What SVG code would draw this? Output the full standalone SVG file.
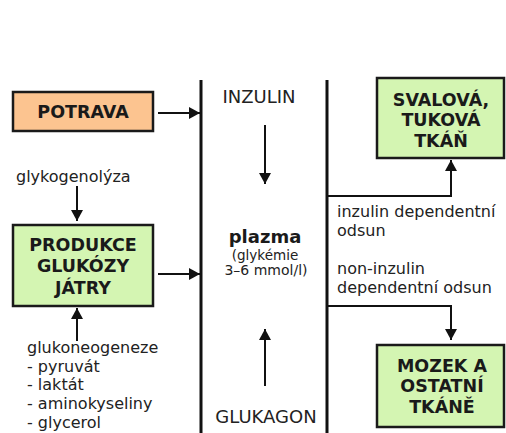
<svg xmlns="http://www.w3.org/2000/svg" width="506" height="433" viewBox="0 0 506 433">
<style>
.box{stroke:#1a1a1a;stroke-width:2.5}
.peach{fill:#fcc490}
.green{fill:#d4f5b2}
.bt{font-family:"DejaVu Sans",Verdana,sans-serif;font-weight:bold;font-size:17.5px;fill:#1a1a1a;text-anchor:middle}
.t{font-family:"DejaVu Sans",Verdana,sans-serif;font-size:16px;fill:#222}
.big{font-family:"DejaVu Sans",Verdana,sans-serif;font-size:18px;fill:#222;text-anchor:middle}
.ln{stroke:#111;stroke-width:2;fill:none}
.bar{stroke:#111;stroke-width:3;fill:none}
</style>
<defs>
<marker id="ah" markerUnits="userSpaceOnUse" markerWidth="11" markerHeight="12" refX="11" refY="6" orient="auto">
<path d="M0,0 L11,6 L0,12 z" fill="#111"/>
</marker>
</defs>
<rect width="506" height="433" fill="#fff"/>

<g id="plasma">
<line class="bar" x1="201" y1="80" x2="201" y2="433"/>
<line class="bar" x1="327" y1="80" x2="327" y2="433"/>
<text class="big" x="259" y="103">INZULIN</text>
<text class="big" x="266" y="423">GLUKAGON</text>
<text class="bt" x="265" y="243" style="font-size:18px">plazma</text>
<text class="t" x="265" y="260" text-anchor="middle" style="font-size:13.5px">(glykémie</text>
<text class="t" x="266" y="275" text-anchor="middle" style="font-size:14px">3–6 mmol/l)</text>
</g>

<g id="potrava">
<rect class="box peach" x="13" y="92" width="140" height="39"/>
<text class="bt" x="83" y="118">POTRAVA</text>
</g>

<g id="produkce">
<rect class="box green" x="13" y="225" width="140" height="81"/>
<text class="bt" x="83" y="251">PRODUKCE</text>
<text class="bt" x="83" y="272">GLUKÓZY</text>
<text class="bt" x="83" y="294">JÁTRY</text>
</g>

<g id="svalova">
<rect class="box green" x="377" y="78" width="127" height="80"/>
<text class="bt" x="441" y="106">SVALOVÁ,</text>
<text class="bt" x="441" y="126">TUKOVÁ</text>
<text class="bt" x="441" y="147">TKÁŇ</text>
</g>

<g id="mozek">
<rect class="box green" x="377" y="345" width="127" height="82"/>
<text class="bt" x="442" y="372">MOZEK A</text>
<text class="bt" x="442" y="392">OSTATNÍ</text>
<text class="bt" x="442" y="413">TKÁNĚ</text>
</g>

<g id="labels">
<text class="t" x="16" y="182">glykogenolýza</text>
<text class="t" x="27" y="353">glukoneogeneze</text>
<text class="t" x="27" y="372">- pyruvát</text>
<text class="t" x="27" y="390">- laktát</text>
<text class="t" x="27" y="409">- aminokyseliny</text>
<text class="t" x="27" y="428">- glycerol</text>
<text class="t" x="337" y="217">inzulin dependentní</text>
<text class="t" x="337" y="236">odsun</text>
<text class="t" x="337" y="274">non-inzulin</text>
<text class="t" x="337" y="293">dependentní odsun</text>
</g>

<g id="connectors">
<line class="ln" x1="158" y1="113" x2="200" y2="113" marker-end="url(#ah)"/>
<line class="ln" x1="158" y1="274" x2="200" y2="274" marker-end="url(#ah)"/>
<line class="ln" x1="77" y1="186" x2="77" y2="221" marker-end="url(#ah)"/>
<line class="ln" x1="77" y1="341" x2="77" y2="308" marker-end="url(#ah)"/>
<line class="ln" x1="265" y1="125" x2="265" y2="184" marker-end="url(#ah)"/>
<line class="ln" x1="265" y1="386" x2="265" y2="329" marker-end="url(#ah)"/>
<polyline class="ln" points="328,196 451,196 451,160" marker-end="url(#ah)"/>
<polyline class="ln" points="328,306 451,306 451,340" marker-end="url(#ah)"/>
</g>
</svg>
